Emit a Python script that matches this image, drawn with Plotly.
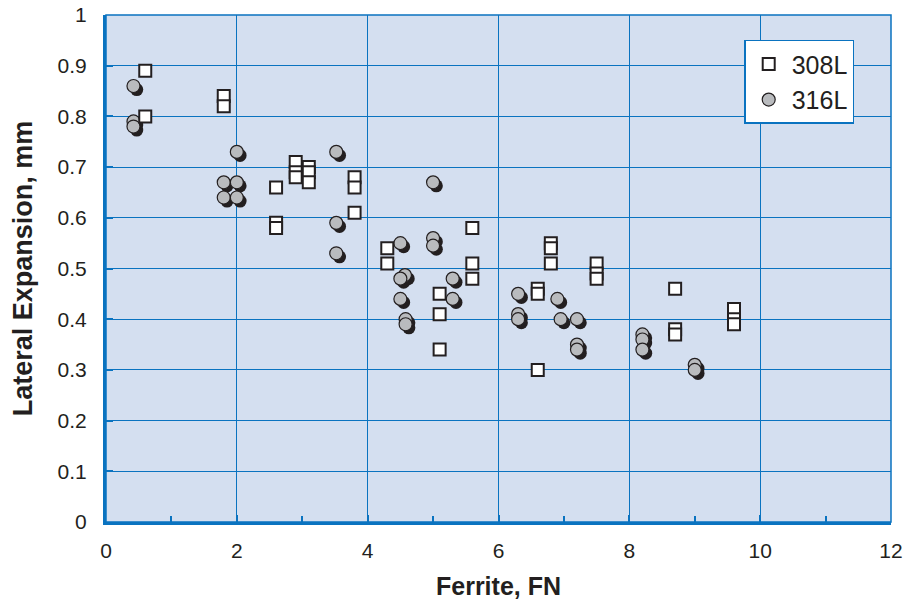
import plotly.graph_objects as go

# 308L (squares)
x_308 = [0.6, 0.6, 1.8, 1.8, 2.6, 2.6, 2.6, 2.9, 2.9, 2.9, 3.1, 3.1, 3.1,
         3.8, 3.8, 3.8, 4.3, 4.3, 5.1, 5.1, 5.1, 5.6, 5.6, 5.6,
         6.6, 6.6, 6.6, 6.8, 6.8, 6.8, 7.5, 7.5, 7.5, 8.7, 8.7, 8.7, 9.6, 9.6, 9.6]
y_308 = [0.89, 0.80, 0.84, 0.82, 0.66, 0.59, 0.58, 0.71, 0.69, 0.68, 0.70, 0.69, 0.67,
         0.68, 0.66, 0.61, 0.54, 0.51, 0.45, 0.41, 0.34, 0.58, 0.51, 0.48,
         0.46, 0.45, 0.30, 0.55, 0.54, 0.51, 0.51, 0.49, 0.48, 0.46, 0.38, 0.37, 0.42, 0.40, 0.39]

# 316L (circles)
x_316 = [0.42, 0.42, 0.42, 1.8, 1.8, 2.0, 2.0, 2.0, 3.52, 3.52, 3.52,
         4.5, 4.57, 4.5, 4.5, 4.58, 4.58, 5.0, 5.0, 5.0, 5.3, 5.3,
         6.3, 6.3, 6.3, 6.9, 6.95, 7.2, 7.2, 7.2, 8.2, 8.2, 8.2, 9.0, 9.0]
y_316 = [0.86, 0.79, 0.78, 0.67, 0.64, 0.73, 0.67, 0.64, 0.73, 0.59, 0.53,
         0.55, 0.487, 0.48, 0.44, 0.40, 0.39, 0.67, 0.56, 0.545, 0.48, 0.44,
         0.45, 0.41, 0.40, 0.44, 0.40, 0.40, 0.35, 0.34, 0.37, 0.36, 0.34, 0.31, 0.30]

BLUE = "#0a73c0"
BG = "#d4dff0"
FONT = "Liberation Sans, Arial, sans-serif"

# shadow offset (data units) for the 3-D look of the circles
dx, dy = 0.05, -0.007

fig = go.Figure()
fig.add_trace(go.Scatter(
    x=[v + dx for v in x_316], y=[v + dy for v in y_316], mode="markers",
    marker=dict(symbol="circle", size=13, color="#231f20", line=dict(width=0)),
    showlegend=False, hoverinfo="skip"))
fig.add_trace(go.Scatter(
    x=x_316, y=y_316, mode="markers", name="316L",
    marker=dict(symbol="circle", size=13, color="#b9bbbe", line=dict(color="#231f20", width=1.2))))
fig.add_trace(go.Scatter(
    x=x_308, y=y_308, mode="markers", name="308L",
    marker=dict(symbol="square", size=12, color="white", line=dict(color="#231f20", width=2))))

fig.update_layout(
    width=903, height=600,
    margin=dict(l=106, r=12, t=15, b=78),
    paper_bgcolor="white", plot_bgcolor=BG,
    font=dict(family=FONT, size=21, color="#231f20"),
    legend=dict(x=0.813, y=0.951, xanchor="left", yanchor="top",
                bgcolor="white", bordercolor=BLUE, borderwidth=1.5,
                font=dict(size=25), traceorder="reversed",
                itemwidth=36),
    xaxis=dict(range=[0, 12], dtick=2, tick0=0, showgrid=True, gridcolor=BLUE, gridwidth=1.3,
               zeroline=False, showline=True, linecolor=BLUE, linewidth=3,
               ticks="inside", ticklen=7, tickcolor=BLUE, tickwidth=2,
               minor=dict(dtick=1, tick0=0, ticks="inside", ticklen=6, tickcolor=BLUE, tickwidth=2, showgrid=False),
               title=dict(text="<b>Ferrite, FN</b>", font=dict(size=25), standoff=18),
               tickfont=dict(size=21), ticklabelstandoff=8, ticklabeloverflow="allow",
               automargin=False),
    yaxis=dict(range=[0, 1], dtick=0.1, tick0=0, showgrid=True, gridcolor=BLUE, gridwidth=1.3,
               zeroline=False, showline=True, linecolor=BLUE, linewidth=3,
               ticks="inside", ticklen=7, tickcolor=BLUE, tickwidth=2,
               title=dict(text="<b>Lateral Expansion, mm</b>", font=dict(size=27), standoff=18),
               tickfont=dict(size=21), tickformat="~g", ticklabelstandoff=12,
               ticklabeloverflow="allow", automargin=False),
    shapes=[dict(type="rect", xref="paper", yref="paper", x0=0, x1=1, y0=0, y1=1,
                 line=dict(color=BLUE, width=1.5), layer="below")],
)

fig.write_html("out.html")
